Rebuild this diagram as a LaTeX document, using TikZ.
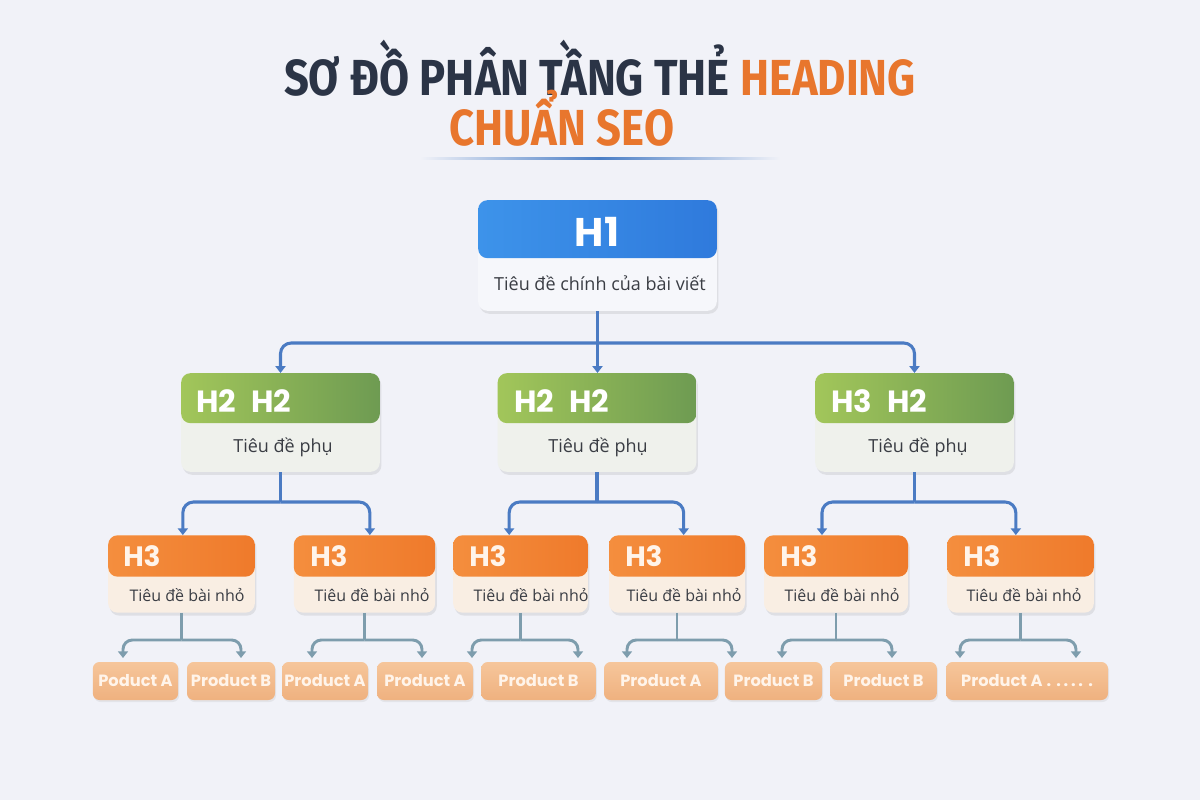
\documentclass[tikz,border=0pt]{standalone}
\usepackage{fontspec}
\setmainfont{Open Sans}
\newfontfamily\titlefont[FakeStretch=0.86]{Fira Sans}
\newfontfamily\headfont{Poppins}
\usetikzlibrary{arrows.meta,shadows}

\definecolor{bg}{HTML}{F1F2F8}
\definecolor{navy}{HTML}{2B3446}
\definecolor{orange1}{HTML}{E8762D}
\definecolor{lineblue}{HTML}{4A7EC6}
\definecolor{h1left}{HTML}{3D93EA}
\definecolor{h1right}{HTML}{2F7ADC}
\definecolor{h1body}{HTML}{F6F7FB}
\definecolor{h2left}{HTML}{A2C65A}
\definecolor{h2right}{HTML}{6E9B52}
\definecolor{h2body}{HTML}{EFF1EC}
\definecolor{h3left}{HTML}{F48E3E}
\definecolor{h3right}{HTML}{EF7A2B}
\definecolor{h3body}{HTML}{F9EEE3}
\definecolor{prodtop}{HTML}{F6C69B}
\definecolor{prodbot}{HTML}{EFB17F}
\definecolor{prodtext}{HTML}{FFF4EA}
\definecolor{link}{HTML}{4B7BC3}
\definecolor{plink}{HTML}{7E9DAD}
\definecolor{subgray}{HTML}{3A3D44}

\tikzset{
  card/.style={rounded corners=7pt,inner sep=0pt,
    drop shadow={opacity=0.16,shadow xshift=1.2pt,shadow yshift=-2.2pt}},
  head/.style n args={3}{path picture={
    \shade[left color=#1,right color=#2] (path picture bounding box.north west)
      rectangle ([yshift=-#3]path picture bounding box.north east);}},
  h1card/.style={card,fill=h1body,minimum width=179pt,minimum height=83pt,
    head={h1left}{h1right}{43.5pt}},
  h2card/.style={card,fill=h2body,minimum width=149pt,minimum height=74pt,
    head={h2left}{h2right}{37.5pt}},
  h3card/.style={card,fill=h3body,minimum height=58pt,
    head={h3left}{h3right}{31pt}},
  prod/.style={rounded corners=5pt,inner sep=0pt,top color=prodtop,bottom color=prodbot,
    minimum height=28.5pt,text=prodtext,font=\headfont\bfseries\fontsize{12.2}{14}\selectfont,
    drop shadow={opacity=0.12,shadow xshift=0.8pt,shadow yshift=-1.5pt}},
  titletext/.style={font=\titlefont\bfseries\fontsize{38}{42}\selectfont,text=navy,inner sep=0pt},
  h1text/.style={font=\headfont\bfseries\fontsize{30}{34}\selectfont,text=white,inner sep=0pt},
  h2text/.style={font=\headfont\bfseries\fontsize{23}{26}\selectfont,text=white,inner sep=0pt,anchor=west},
  h3text/.style={font=\headfont\bfseries\fontsize{21}{24}\selectfont,text=prodtext,inner sep=0pt,anchor=west},
  subtext/.style={font=\fontsize{13.5}{16}\selectfont,text=subgray,inner sep=0pt},
  smalltext/.style={font=\fontsize{12}{14}\selectfont,text=subgray,inner sep=0pt},
  link/.style={draw=link,line width=2.3pt,rounded corners=8pt,-{Triangle[width=7.5pt,length=5pt]}},
  plink/.style={draw=plink,line width=2.2pt,rounded corners=7pt,-{Triangle[width=7.5pt,length=5pt]}}
}

\begin{document}
\begin{tikzpicture}[x=0.75pt,y=-0.75pt]
\fill[bg] (0,0) rectangle (1200,800);

\coordinate (T1) at (600,95);
\coordinate (T2) at (562,145);
\coordinate (H1c) at (597.5,255.5);
\coordinate (H2a) at (280.5,422.5);
\coordinate (H2b) at (597,422.5);
\coordinate (H2c) at (914.5,422.5);
\coordinate (H3a) at (181.5,574);
\coordinate (H3b) at (364.5,574);
\coordinate (H3c) at (520.5,574);
\coordinate (H3d) at (677,574);
\coordinate (H3e) at (836,574);
\coordinate (H3f) at (1020.5,574);

% title
\node[titletext,anchor=base] (title1) at (T1) {SƠ ĐỒ PHÂN TẦNG THẺ \textcolor{orange1}{HEADING}};
\node[titletext,anchor=base,text=orange1] (title2) at (T2) {CHUẨN SEO};
\shade[left color=bg,right color=lineblue] (420,157) rectangle (600,159);
\shade[left color=lineblue,right color=bg] (600,157) rectangle (780,159);

% cards
\node[h1card] (h1) at (H1c) {};
\node[h2card] (h2a) at (H2a) {};
\node[h2card] (h2b) at (H2b) {};
\node[h2card] (h2c) at (H2c) {};
\node[h3card,minimum width=110pt] (h3a) at (H3a) {};
\node[h3card,minimum width=106pt] (h3b) at (H3b) {};
\node[h3card,minimum width=101pt] (h3c) at (H3c) {};
\node[h3card,minimum width=102pt] (h3d) at (H3d) {};
\node[h3card,minimum width=108pt] (h3e) at (H3e) {};
\node[h3card,minimum width=110pt] (h3f) at (H3f) {};

\node[h1text] (h1lab) at (597,232) {H1};
\node[subtext] (h1sub) at (600,283) {Tiêu đề chính của bài viết};

\node[h2text] (h2alab) at (196,401) {H2\hspace{.5em}H2};
\node[h2text] (h2blab) at (514,401) {H2\hspace{.5em}H2};
\node[h2text] (h2clab) at (831,401) {H3\hspace{.5em}H2};
\node[subtext] (h2asub) at (283,447) {Tiêu đề phụ};
\node[subtext] (h2bsub) at (598,447) {Tiêu đề phụ};
\node[subtext] (h2csub) at (918,447) {Tiêu đề phụ};

\node[h3text] (h3alab) at (123,556) {H3};
\node[h3text] (h3blab) at (310,556) {H3};
\node[h3text] (h3clab) at (469,556) {H3};
\node[h3text] (h3dlab) at (625,556) {H3};
\node[h3text] (h3elab) at (780,556) {H3};
\node[h3text] (h3flab) at (963,556) {H3};
\node[smalltext] (h3asub) at (187,595) {Tiêu đề bài nhỏ};
\node[smalltext] (h3bsub) at (372,595) {Tiêu đề bài nhỏ};
\node[smalltext] (h3csub) at (531,595) {Tiêu đề bài nhỏ};
\node[smalltext] (h3dsub) at (684,595) {Tiêu đề bài nhỏ};
\node[smalltext] (h3esub) at (842,595) {Tiêu đề bài nhỏ};
\node[smalltext] (h3fsub) at (1024,595) {Tiêu đề bài nhỏ};

% products
\node[prod,minimum width=64pt] (p1) at (135.5,681) {Poduct A};
\node[prod,minimum width=66pt] (p2) at (231,681) {Product B};
\node[prod,minimum width=64.5pt] (p3) at (325,681) {Product A};
\node[prod,minimum width=72pt] (p4) at (425,681) {Product A};
\node[prod,minimum width=86pt] (p5) at (538.5,681) {Product B};
\node[prod,minimum width=85.5pt] (p6) at (661,681) {Product A};
\node[prod,minimum width=73pt] (p7) at (773.5,681) {Product B};
\node[prod,minimum width=80pt] (p8) at (883.5,681) {Product B};
\node[prod,minimum width=121.5pt] (p9) at (1027,681) {Product A\hspace{3pt}.\hspace{4pt}.\,.\,.\,.\hspace{4pt}.};

% H1 -> H2
\coordinate (B1) at (597.5,343);
\draw[link] (h1.south) -- (h1.south |- h2b.north);
\draw[link] (B1) -| (h2a.north);
\draw[link] (B1) -| (h2c.north);

% H2 -> H3
\draw[link,-] (h2a.south) -- (h2a.south |- 0,502) coordinate (B2a);
\draw[link] (B2a) -| ([xshift=1pt]h3a.north);
\draw[link] (B2a) -| ([xshift=4pt]h3b.north);
\draw[link,-] (h2b.south) -- (h2b.south |- 0,502) coordinate (B2b);
\draw[link] (B2b) -| ([xshift=-8.5pt]h3c.north);
\draw[link] (B2b) -| ([xshift=5pt]h3d.north);
\draw[link,-] (h2c.south) -- (h2c.south |- 0,502) coordinate (B2c);
\draw[link] (B2c) -| ([xshift=-10.5pt]h3e.north);
\draw[link] (B2c) -| ([xshift=-3.5pt]h3f.north);

% H3 -> products
\coordinate (a1) at (123,658);
\coordinate (a2) at (241,658);
\coordinate (a3) at (312,658);
\coordinate (a4) at (422,658);
\coordinate (a5) at (472,658);
\coordinate (a6) at (578,658);
\coordinate (a7) at (627,658);
\coordinate (a8) at (732,658);
\coordinate (a9) at (782,658);
\coordinate (a10) at (892,658);
\coordinate (a11) at (960,658);
\coordinate (a12) at (1076,658);
\draw[plink,-] (h3a.south) -- (h3a.south |- 0,640) coordinate (B3a);
\draw[plink] (B3a) -| (a1);
\draw[plink] (B3a) -| (a2);
\draw[plink,-] (h3b.south) -- (h3b.south |- 0,640) coordinate (B3b);
\draw[plink] (B3b) -| (a3);
\draw[plink] (B3b) -| (a4);
\draw[plink,-] (h3c.south) -- (h3c.south |- 0,640) coordinate (B3c);
\draw[plink] (B3c) -| (a5);
\draw[plink] (B3c) -| (a6);
\draw[plink,-] (h3d.south) -- (h3d.south |- 0,640) coordinate (B3d);
\draw[plink] (B3d) -| (a7);
\draw[plink] (B3d) -| (a8);
\draw[plink,-] (h3e.south) -- (h3e.south |- 0,640) coordinate (B3e);
\draw[plink] (B3e) -| (a9);
\draw[plink] (B3e) -| (a10);
\draw[plink,-] (h3f.south) -- (h3f.south |- 0,640) coordinate (B3f);
\draw[plink] (B3f) -| (a11);
\draw[plink] (B3f) -| (a12);

\end{tikzpicture}
\end{document}
